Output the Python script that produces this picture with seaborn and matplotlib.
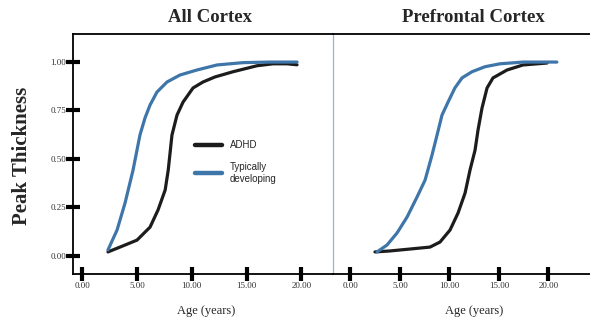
import numpy as np
import pandas as pd
import seaborn as sns
import matplotlib.pyplot as plt

# values
all_td_age = [2.35, 3.18, 3.91, 4.64, 5.27, 5.73, 6.19, 6.82, 7.74, 8.92, 10.47, 12.3, 14.67, 17.13, 19.6]
all_td_val = [0.029, 0.132, 0.272, 0.442, 0.623, 0.711, 0.778, 0.845, 0.897, 0.933, 0.959, 0.985, 0.997, 1.0, 1.0]
all_adhd_age = [2.35, 3.45, 5.0, 6.19, 6.92, 7.57, 7.85, 8.19, 8.65, 9.2, 10.11, 11.02, 12.11,
                13.76, 15.95, 17.41, 18.69, 19.6]
all_adhd_val = [0.019, 0.044, 0.08, 0.147, 0.236, 0.339, 0.442, 0.623, 0.726, 0.793, 0.866, 0.897,
                0.923, 0.95, 0.981, 0.991, 0.991, 0.986]

pfc_td_age = [2.69, 3.7, 4.71, 5.72, 6.73, 7.54, 8.24, 8.75, 9.25, 9.86, 10.55, 11.27, 12.28,
              13.6, 15.11, 17.44, 20.85]
pfc_td_val = [0.019, 0.055, 0.117, 0.199, 0.303, 0.39, 0.519, 0.623, 0.726, 0.793, 0.866, 0.918,
              0.95, 0.976, 0.991, 1.0, 1.0]
pfc_adhd_age = [2.48, 3.99, 6.02, 8.04, 9.05, 10.06, 10.87, 11.58, 12.08, 12.59, 12.89, 13.29,
                13.8, 14.4, 15.82, 17.43, 19.86]
pfc_adhd_val = [0.019, 0.024, 0.034, 0.044, 0.07, 0.132, 0.22, 0.323, 0.442, 0.545, 0.649, 0.762,
                0.866, 0.918, 0.959, 0.985, 0.995]

x_ticks = [0, 5, 10, 15, 20]
y_ticks = [0, 0.25, 0.5, 0.75, 1.0]
groups = ["ADHD", "Typically\ndeveloping"]
colors = {"ADHD": "#1c1c1c", "Typically\ndeveloping": "#3f76a9"}


def make_df(adhd_age, adhd_val, td_age, td_val):
    a = pd.DataFrame({"age": adhd_age, "val": adhd_val, "group": groups[0]})
    t = pd.DataFrame({"age": td_age, "val": td_val, "group": groups[1]})
    return pd.concat([a, t], ignore_index=True)


sns.set_theme(style="white")
plt.rcParams["font.family"] = ["Liberation Serif", "DejaVu Serif"]

fig = plt.figure(figsize=(5.9, 3.18), dpi=100)
ax1 = fig.add_axes([0.1237, 0.1384, 0.4407, 0.7547])
ax2 = fig.add_axes([0.5644, 0.1384, 0.4356, 0.7547])
ax2.patch.set_visible(False)

df_all = make_df(all_adhd_age, all_adhd_val, all_td_age, all_td_val)
df_pfc = make_df(pfc_adhd_age, pfc_adhd_val, pfc_td_age, pfc_td_val)

for ax, df in [(ax1, df_all), (ax2, df_pfc)]:
    sns.lineplot(data=df, x="age", y="val", hue="group", palette=colors,
                 hue_order=groups, estimator=None, sort=False, linewidth=2.3,
                 ax=ax, legend=False)
    for ln in ax.lines:
        ln.set_solid_capstyle("round")
        ln.set_solid_joinstyle("round")
    ax.set_ylim(-0.095, 1.145)
    ax.set_xticks(x_ticks)
    ax.set_xticklabels([f"{t:.2f}" for t in x_ticks], fontsize=6.5, color="#333333")
    ax.tick_params(axis="x", direction="inout", length=10, width=3, color="black",
                   pad=1, bottom=True)
    ax.set_xlabel("Age (years)", fontsize=9)
    ax.set_ylabel("")
    for side in ["top", "bottom"]:
        ax.spines[side].set_color("black")
        ax.spines[side].set_linewidth(1.3)

ax1.set_xlim(-0.84, 22.88)
ax2.set_xlim(-1.76, 24.2)

ax1.set_yticks(y_ticks)
ax1.set_yticklabels([f"{t:.2f}" for t in y_ticks], fontsize=6.5, color="#333333")
ax1.tick_params(axis="y", direction="inout", length=9.5, width=3, color="black",
                pad=0, left=True)
ax1.spines["left"].set_color("black")
ax1.spines["left"].set_linewidth(1.3)
ax1.spines["right"].set_color("#9fb3c6")
ax1.spines["right"].set_linewidth(0.9)

ax2.set_yticks([])
ax2.spines["left"].set_visible(False)
ax2.spines["right"].set_visible(False)

ax1.xaxis.set_label_coords(0.512, -0.128)
ax2.xaxis.set_label_coords(0.549, -0.128)

ax1.text(0.527, 1.067, "All Cortex", transform=ax1.transAxes, ha="center",
         va="center", fontsize=13.5, fontweight="bold")
ax2.text(0.545, 1.067, "Prefrontal Cortex", transform=ax2.transAxes, ha="center",
         va="center", fontsize=13.5, fontweight="bold")

fig.text(22 / 590, 1 - 156 / 318, "Peak Thickness", rotation=90, ha="center",
         va="center", fontsize=15, fontweight="bold")

handles = [plt.Line2D([], [], color=colors[g], linewidth=3.2) for g in groups]
ax1.legend(handles, groups, loc="center left", bbox_to_anchor=(0.469, 0.467),
           frameon=False, handlelength=2.8, handletextpad=0.8, labelspacing=1.2,
           borderpad=0, borderaxespad=0,
           prop={"family": ["Liberation Sans", "DejaVu Sans"], "size": 7})

fig.savefig("out.png", dpi=100)
